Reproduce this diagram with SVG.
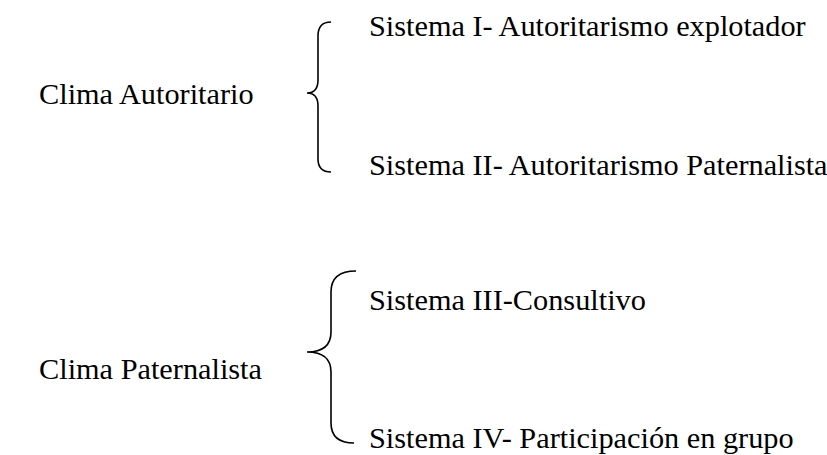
<svg xmlns="http://www.w3.org/2000/svg" width="827" height="455" viewBox="0 0 827 455">
<style>
text{font-family:"Liberation Serif","Times New Roman",serif;font-size:30.3px;fill:#000}
.br{fill:none;stroke:#000;stroke-width:1.6}
</style>
<rect width="827" height="455" fill="#fff"/>
<g id="clima-autoritario"><text x="39" y="104">Clima Autoritario</text></g>
<g id="sistema-1"><text x="369" y="36">Sistema I- Autoritarismo explotador</text></g>
<g id="sistema-2"><text x="369" y="175">Sistema II- Autoritarismo Paternalista</text></g>
<g id="clima-paternalista"><text x="39" y="379">Clima Paternalista</text></g>
<g id="sistema-3"><text x="369" y="310">Sistema III-Consultivo</text></g>
<g id="sistema-4"><text x="369" y="448">Sistema IV- Participación en grupo</text></g>
<g id="connectors">
<path class="br" d="M331,22 Q318,22 318,36 L318,80 Q318,93 307,93 Q318,93 318,106 L318,159 Q318,172 331,172"/>
<path class="br" d="M356,271 Q331,271 331,292 L331,332 Q331,352 307,352 Q331,352 331,372 L331,423 Q331,443 354,443"/>
</g>
</svg>
